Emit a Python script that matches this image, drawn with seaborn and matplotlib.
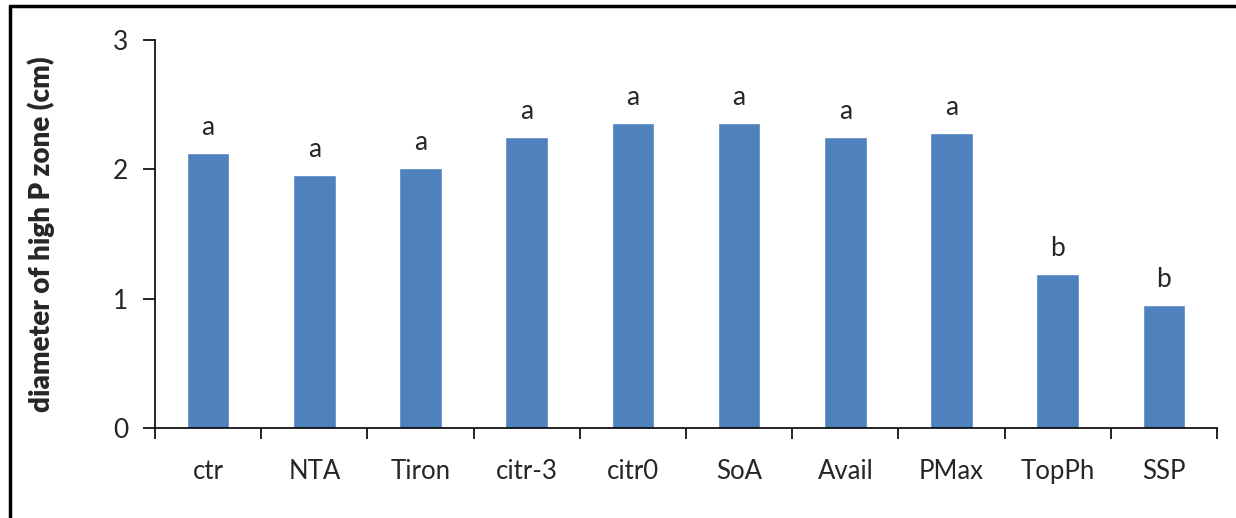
import matplotlib
matplotlib.use("Agg")
import matplotlib.pyplot as plt
import seaborn as sns
import pandas as pd
from matplotlib.lines import Line2D
from matplotlib.ticker import FixedLocator

categories = ["ctr", "NTA", "Tiron", "citr-3", "citr0", "SoA", "Avail", "PMax", "TopPh", "SSP"]
values = [2.13, 1.96, 2.01, 2.25, 2.36, 2.36, 2.25, 2.28, 1.19, 0.95]
letters = ["a", "a", "a", "a", "a", "a", "a", "a", "b", "b"]
yticks = [0, 1, 2, 3]

sns.set_style("white")
plt.rcParams['font.family'] = ['Lato', 'DejaVu Sans']

fig = plt.figure(figsize=(12.36, 5.18), dpi=100)
ax = fig.add_axes([155/1236, 1-428/518, (1217-155)/1236, (428-40)/518])

df = pd.DataFrame({"cat": categories, "val": values})
sns.barplot(data=df, x="cat", y="val", color="#4F81BD", saturation=1, width=0.4, ax=ax)

ax.set_xlim(-0.5, len(categories) - 0.5)
ax.set_ylim(0, 3)
ax.set_yticks(yticks)
ax.set_yticklabels([str(t) for t in yticks], fontsize=19)
ax.tick_params(axis="y", direction="out", length=9, width=1.2, color="black", pad=10, left=True)
ax.tick_params(axis="x", which="major", length=0, pad=22, labelsize=18.5)
ax.xaxis.set_minor_locator(FixedLocator([i - 0.5 for i in range(len(categories) + 1)]))
ax.tick_params(axis="x", which="minor", direction="out", length=8, width=1.2, color="black", bottom=True)
ax.set_xlabel("")
ax.set_ylabel("diameter of high P zone (cm)", fontsize=20, fontweight="heavy", labelpad=42)

for s in ["top", "right"]:
    ax.spines[s].set_visible(False)
for s in ["left", "bottom"]:
    ax.spines[s].set_color("black")
    ax.spines[s].set_linewidth(1.2)

for i, (v, l) in enumerate(zip(values, letters)):
    ax.text(i, v + 0.1, l, ha="center", va="bottom", fontsize=19)

fig.add_artist(Line2D([10/1236, 10/1236], [0, 1-6/518], transform=fig.transFigure, color="black", lw=2.5))
fig.add_artist(Line2D([10/1236, 1], [1-6/518, 1-6/518], transform=fig.transFigure, color="black", lw=2.5))

fig.savefig("out.png", dpi=100)
